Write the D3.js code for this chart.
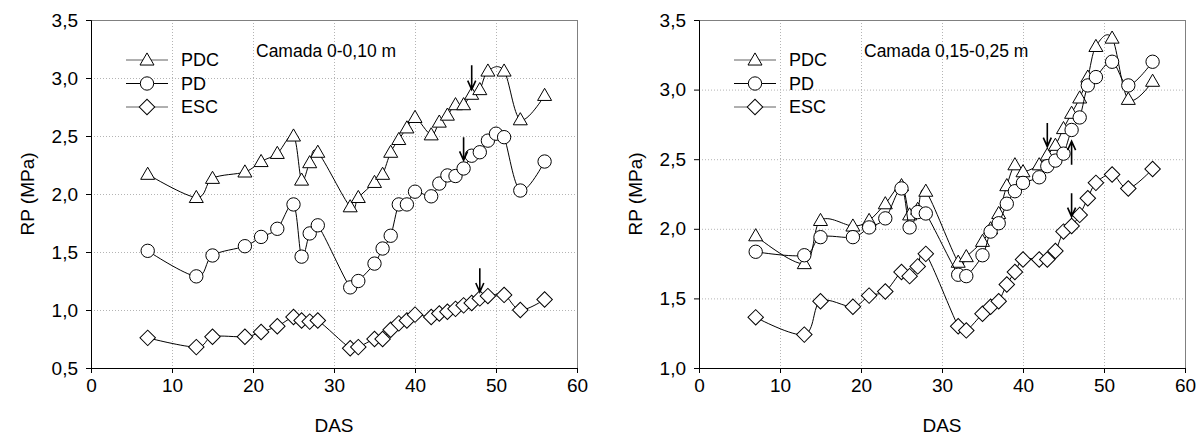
<!DOCTYPE html>
<html>
<head>
<meta charset="utf-8">
<script src="https://cdn.jsdelivr.net/npm/d3@7"></script>
<style>
  body { margin: 0; background: #fff; }
  svg text { font-family: "Liberation Sans", Arial, sans-serif; fill: #000; }
  .grid line { stroke: #b4b4b4; stroke-dasharray: 1,2; }
</style>
</head>
<body>
<svg id="chart" width="1203" height="443"></svg>
<script>
// DAS (days) for each series
const das = [7,13,15,19,21,23,25,26,27,28,32,33,35,36,37,38,39,40,42,43,44,45,46,47,48,49,51,53,56];
const dasPD1 = [7,13,15,19,21,23,25,26,27,28,32,33,35,36,37,38,39,40,42,43,44,45,46,47,48,49,50,51,53,56];

// Camada 0-0,10 m
const pdc1 = [2.17,1.97,2.135,2.19,2.28,2.35,2.50,2.12,2.27,2.36,1.89,1.97,2.10,2.17,2.36,2.47,2.57,2.66,2.51,2.62,2.68,2.77,2.77,2.86,2.90,3.06,3.06,2.64,2.85];
const pd1  = [1.51,1.29,1.47,1.55,1.63,1.70,1.91,1.46,1.66,1.73,1.195,1.25,1.40,1.53,1.64,1.91,1.91,2.02,1.98,2.09,2.16,2.155,2.22,2.33,2.36,2.46,2.52,2.49,2.03,2.28];
const esc1 = [0.76,0.68,0.77,0.77,0.81,0.86,0.94,0.91,0.90,0.91,0.67,0.68,0.75,0.75,0.83,0.885,0.91,0.96,0.94,0.97,0.985,1.01,1.04,1.06,1.10,1.12,1.13,1.00,1.09];
const arrows1 = [[47,3.11,2.90],[46,2.49,2.29],[48,1.36,1.155]];

// Camada 0,15-0,25 m
const pdc2 = [1.95,1.75,2.06,2.02,2.06,2.18,2.31,2.10,2.14,2.27,1.76,1.80,1.91,2.00,2.11,2.31,2.46,2.41,2.46,2.53,2.60,2.72,2.83,2.94,3.09,3.31,3.37,2.93,3.06];
const pd2  = [1.835,1.81,1.94,1.94,2.01,2.075,2.29,2.01,2.12,2.11,1.67,1.66,1.81,1.98,2.04,2.18,2.27,2.33,2.37,2.45,2.49,2.54,2.71,2.80,3.03,3.09,3.20,3.03,3.20];
const esc2 = [1.364,1.24,1.48,1.44,1.52,1.55,1.69,1.66,1.73,1.82,1.30,1.27,1.39,1.44,1.48,1.60,1.69,1.78,1.78,1.78,1.84,1.98,2.02,2.10,2.22,2.33,2.39,2.29,2.43];
const arrows2 = [[43,2.76,2.59],[46,2.46,2.63],[46,2.255,2.087]];

const seriesNames = ["PDC", "PD", "ESC"];
const xTicks = [0,10,20,30,40,50,60];
const yTicks1 = [0.5,1.0,1.5,2.0,2.5,3.0,3.5];
const yTicks2 = [1.0,1.5,2.0,2.5,3.0,3.5];

const svg = d3.select("#chart");
const fmt = d => d3.format(".1f")(d).replace(".", ",");

const symbols = {
  PDC: d3.symbol().type(d3.symbolTriangle).size(85),
  PD: d3.symbol().type(d3.symbolCircle).size(140),
  ESC: d3.symbol().type(d3.symbolSquare).size(120)
};

function marker(g, name, x, y) {
  g.append("path")
    .attr("d", symbols[name]())
    .attr("transform", "translate(" + x + "," + (name == "PDC" ? y + 1 : y) + ")" + (name == "ESC" ? " rotate(45)" : ""))
    .attr("fill", "#fff")
    .attr("stroke", "#000")
    .attr("stroke-width", 1);
}

function panel(left, yDomain, yTicks, series, arrows, title) {
  const top = 20, bottom = 368, width = 486;
  const x = d3.scaleLinear().domain([0, 60]).range([left, left + width]);
  const y = d3.scaleLinear().domain(yDomain).range([bottom, top]);
  const g = svg.append("g");

  // grid
  const grid = g.append("g").attr("class", "grid");
  grid.selectAll(".gx").data(xTicks.slice(1, -1)).enter().append("line")
    .attr("x1", d => x(d) + 0.5).attr("x2", d => x(d) + 0.5)
    .attr("y1", top).attr("y2", bottom);
  grid.selectAll(".gy").data(yTicks.slice(1, -1)).enter().append("line")
    .attr("x1", left).attr("x2", left + width)
    .attr("y1", d => y(d) + 0.5).attr("y2", d => y(d) + 0.5);

  g.append("rect")
    .attr("x", left + 0.5).attr("y", top + 0.5)
    .attr("width", width).attr("height", bottom - top)
    .attr("fill", "none").attr("stroke", "#808080");

  // axes
  const xa = g.append("g").attr("transform", "translate(0," + bottom + ")")
    .call(d3.axisBottom(x).tickValues(xTicks).tickSize(5).tickPadding(6));
  const ya = g.append("g").attr("transform", "translate(" + left + ",0)")
    .call(d3.axisLeft(y).tickValues(yTicks).tickFormat(fmt).tickSize(5).tickPadding(8));
  [xa, ya].forEach(a => {
    a.select(".domain").attr("stroke", "#000");
    a.selectAll("text").style("font-size", "19px").attr("fill", "#000");
  });

  g.append("text")
    .attr("x", left + width / 2).attr("y", 432)
    .attr("text-anchor", "middle").style("font-size", "19px").text("DAS");
  g.append("text")
    .attr("transform", "translate(" + (left - 57) + "," + ((top + bottom) / 2) + ") rotate(-90)")
    .attr("text-anchor", "middle").style("font-size", "19px").text("RP (MPa)");

  // series
  const line = d3.line().x(d => x(d[0])).y(d => y(d[1])).curve(d3.curveCardinal);
  series.forEach(s => {
    const pts = s.days.map((d, i) => [d, s.values[i]]);
    g.append("path").attr("d", line(pts))
      .attr("fill", "none").attr("stroke", "#000").attr("stroke-width", 1);
    pts.forEach(p => marker(g, s.name, x(p[0]), y(p[1])));
  });

  // arrows
  arrows.forEach(a => {
    const ax = x(a[0]), y0 = y(a[1]), y1 = y(a[2]);
    const dir = y1 > y0 ? 1 : -1;
    g.append("path")
      .attr("d", "M" + ax + "," + y0 + "L" + ax + "," + y1 +
        "M" + (ax - 4) + "," + (y1 - dir * 9) + "L" + ax + "," + y1 + "L" + (ax + 4) + "," + (y1 - dir * 9))
      .attr("fill", "none").attr("stroke", "#000").attr("stroke-width", 1.6);
  });

  // legend
  const lg = g.append("g");
  seriesNames.forEach((name, i) => {
    const ly = 60 + i * 23.5;
    lg.append("line")
      .attr("x1", left + 35).attr("x2", left + 77)
      .attr("y1", ly).attr("y2", ly)
      .attr("stroke", i == 1 ? "#000" : "#606060");
    marker(lg, name, left + 56, ly);
    lg.append("text").attr("x", left + 90).attr("y", ly).attr("dy", "0.36em")
      .style("font-size", "18px").text(name);
  });

  g.append("text").attr("x", left + 165).attr("y", 57)
    .style("font-size", "17.5px").text(title);
}

panel(91, [0.5, 3.5], yTicks1, [
  {name: "PDC", days: das, values: pdc1},
  {name: "PD", days: dasPD1, values: pd1},
  {name: "ESC", days: das, values: esc1}
], arrows1, "Camada 0-0,10 m");

panel(699, [1.0, 3.5], yTicks2, [
  {name: "PDC", days: das, values: pdc2},
  {name: "PD", days: das, values: pd2},
  {name: "ESC", days: das, values: esc2}
], arrows2, "Camada 0,15-0,25 m");
</script>
</body>
</html>
